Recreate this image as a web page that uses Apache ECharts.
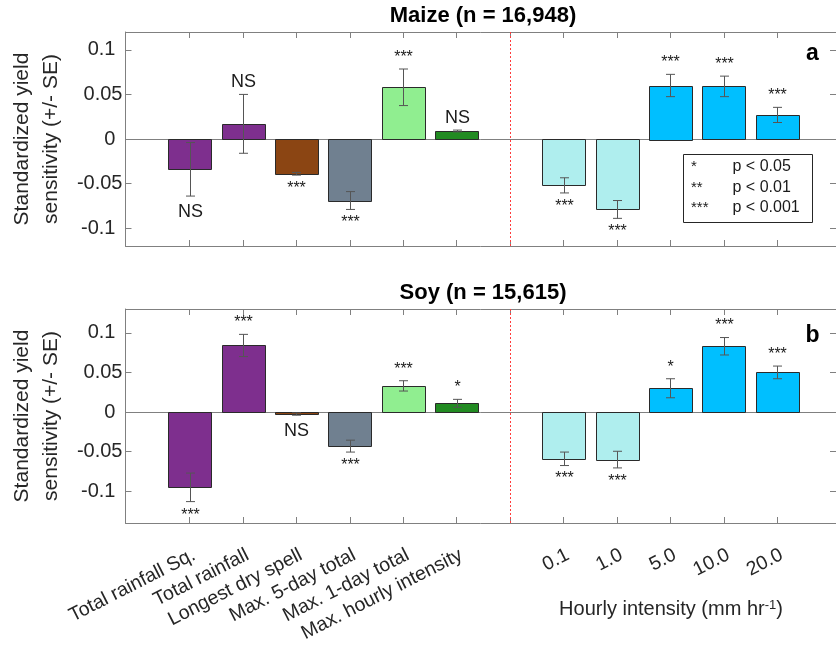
<!DOCTYPE html>
<html><head><meta charset="utf-8">
<script src="https://cdn.jsdelivr.net/npm/echarts@6/dist/echarts.min.js"></script>
<style>html,body{margin:0;padding:0;background:#fff}#c{width:836px;height:649px}</style>
</head><body><div id="c"></div>
<script>
// ---------------- data ----------------
const variableNames = ['Total rainfall Sq.', 'Total rainfall', 'Longest dry spell', 'Max. 5-day total', 'Max. 1-day total', 'Max. hourly intensity'];
const intensityLabels = ['0.1', '1.0', '5.0', '10.0', '20.0'];
const maizeValues = [-0.034, 0.017, -0.039, -0.069, 0.058, 0.009, -0.052, -0.079, 0.060, 0.059, 0.027];
const maizeSE     = [0.030, 0.033, 0.0015, 0.010, 0.0205, 0.001, 0.0085, 0.010, 0.0125, 0.0115, 0.0085];
const maizeSig    = ['NS', 'NS', '***', '***', '***', 'NS', '***', '***', '***', '***', '***'];
const soyValues   = [-0.095, 0.084, -0.0025, -0.043, 0.033, 0.011, -0.059, -0.060, 0.030, 0.083, 0.050];
const soySE       = [0.018, 0.014, 0.0015, 0.0075, 0.0065, 0.005, 0.0085, 0.0105, 0.012, 0.011, 0.008];
const soySig      = ['***', '***', 'NS', '***', '***', '*', '***', '***', '*', '***', '***'];
const yTicks = [-0.1, -0.05, 0, 0.05, 0.1];
const legendStars = ['*', '**', '***'];
const legendText = ['p < 0.05', 'p < 0.01', 'p < 0.001'];
const panelTitles = ['Maize (n = 16,948)', 'Soy (n = 15,615)'];
const panelLetters = ['a', 'b'];
const yName = 'Standardized yield\nsensitivity (+/- SE)';
const xNameMain = 'Hourly intensity (mm hr';
const xNameSup = '-1';

// ---------------- styles ----------------
const barColors = ['#7E2F8E', '#7E2F8E', '#8B4513', '#708090', '#90EE90', '#228B22', '#AFEEEE', '#AFEEEE', '#00BFFF', '#00BFFF', '#00BFFF'];
const FF = 'Liberation Sans';
const TXT = '#262626';
const AX = '#808080';

// slots: left group at 1..6, separator at 7, hourly group at 8..12
const nLeft = variableNames.length;
const sepSlot = nLeft + 1;
const slotOf = i => i < nLeft ? i + 1 : i + 2;
const allSlots = [];
for (let s = 1; s <= nLeft + 1 + intensityLabels.length; s++) allSlots.push(s);
const slotLabel = {};
variableNames.forEach((n, i) => slotLabel[i + 1] = n);
intensityLabels.forEach((n, i) => slotLabel[sepSlot + 1 + i] = n);
const labelSlots = Object.keys(slotLabel).map(Number);

const X_MIN = -0.2, X_MAX = 13.1;
const yRanges = [[-0.12, 0.12], [-0.14, 0.13]];
const BAR_W = 0.8;

function yFmt(v) {
  const s = Math.abs(v) < 1e-9 ? '0' : String(+v.toFixed(2));
  return s.replace(/^-?\d\.?/, '').length === 2 ? '{w|' + s + '}' : '{n|' + s + '}';
}

const grids = [
  { left: 124, top: 32, width: 714, height: 214 },
  { left: 124, top: 309, width: 714, height: 214 }
];

const xAxes = [], yAxes = [], series = [];
[0, 1].forEach(g => {
  const common = {
    type: 'value', gridIndex: g, min: X_MIN, max: X_MAX,
    axisLine: { show: true, onZero: false, lineStyle: { color: AX, width: 1 } },
    axisTick: { show: true, inside: true, length: 6, customValues: allSlots, lineStyle: { color: AX, width: 1 } },
    splitLine: { show: false }
  };
  xAxes.push(Object.assign({}, common, {
    position: 'bottom',
    axisLabel: {
      show: g === 1, customValues: labelSlots, formatter: v => slotLabel[Math.round(v)] || '',
      rotate: 27, fontSize: 19.5, fontFamily: FF, color: TXT, margin: 22,
      align: 'right', verticalAlign: 'top'
    }
  }));
  xAxes.push(Object.assign({}, common, { position: 'top', axisLabel: { show: false } }));
  const ycommon = {
    type: 'value', gridIndex: g, min: yRanges[g][0], max: yRanges[g][1],
    axisLine: { show: true, onZero: false, lineStyle: { color: AX, width: 1 } },
    axisTick: { show: true, inside: true, length: 6, customValues: yTicks, lineStyle: { color: AX, width: 1 } },
    splitLine: { show: false }
  };
  yAxes.push(Object.assign({}, ycommon, {
    position: 'left',
    name: yName, nameLocation: 'middle', nameRotate: 90, nameGap: 58,
    nameTextStyle: { fontSize: 21, lineHeight: 29, color: TXT, fontFamily: FF },
    axisLabel: {
      show: true, customValues: yTicks, formatter: yFmt, margin: 3,
      rich: {
        w: { fontSize: 20, fontFamily: FF, color: TXT },
        n: { fontSize: 20, fontFamily: FF, color: TXT, padding: [0, 7, 0, 0] }
      }
    }
  }));
  yAxes.push(Object.assign({}, ycommon, { position: 'right', axisLabel: { show: false } }));
});

function makeSeries(g, values, se, sig) {
  return {
    type: 'custom',
    xAxisIndex: g * 2, yAxisIndex: g * 2,
    clip: false,
    data: values.map((v, i) => [slotOf(i), v, se[i]]),
    encode: { x: 0, y: 1 },
    renderItem: (params, api) => {
      const i = params.dataIndex;
      const x = api.value(0), v = api.value(1), e = api.value(2);
      const cs = params.coordSys;
      const children = [];
      if (i === 0) {
        const zy = Math.round(api.coord([x, 0])[1]) + 0.5;
        children.push({ type: 'line', shape: { x1: cs.x, y1: zy, x2: cs.x + cs.width, y2: zy }, style: { stroke: AX, lineWidth: 1 } });
        const sx = Math.round(api.coord([sepSlot, 0])[0]) + 0.5;
        children.push({ type: 'line', shape: { x1: sx, y1: cs.y, x2: sx, y2: cs.y + cs.height }, style: { stroke: '#ff3b3b', lineWidth: 1, lineDash: [2, 2] } });
      }
      const p0 = api.coord([x - BAR_W / 2, v]);
      const p1 = api.coord([x + BAR_W / 2, 0]);
      children.push({
        type: 'rect',
        shape: { x: Math.round(p0[0]) + 0.5, y: Math.round(Math.min(p0[1], p1[1])) + 0.5, width: Math.round(p1[0] - p0[0]), height: Math.max(1, Math.round(Math.abs(p1[1] - p0[1]))) },
        style: { fill: barColors[i], stroke: '#2a2a2a', lineWidth: 1 }
      });
      const top = api.coord([x, v + e]), bot = api.coord([x, v - e]);
      const cx = Math.round(top[0]) + 0.5;
      const es = { stroke: '#555', lineWidth: 1 };
      children.push({ type: 'line', shape: { x1: cx, y1: top[1], x2: cx, y2: bot[1] }, style: es });
      children.push({ type: 'line', shape: { x1: cx - 4.5, y1: top[1], x2: cx + 4.5, y2: top[1] }, style: es });
      children.push({ type: 'line', shape: { x1: cx - 4.5, y1: bot[1], x2: cx + 4.5, y2: bot[1] }, style: es });
      const s = sig[i];
      const isNS = s === 'NS';
      let ty;
      if (v >= 0) ty = top[1] - (isNS ? 12.5 : 11.5);
      else ty = bot[1] + (isNS ? 15.5 : 13.5);
      children.push({
        type: 'text',
        style: { text: s, x: cx, y: ty, textAlign: 'center', textVerticalAlign: 'middle', fontSize: isNS ? 18 : 16, fontFamily: FF, fill: '#1a1a1a' }
      });
      return { type: 'group', children };
    }
  };
}
series.push(makeSeries(0, maizeValues, maizeSE, maizeSig));
series.push(makeSeries(1, soyValues, soySE, soySig));

const graphic = [];
const titleY = [16, 292.5];
const letterY = [53.3, 336];
[0, 1].forEach(g => {
  graphic.push({ type: 'text', x: 483, y: titleY[g], style: { text: panelTitles[g], textAlign: 'center', textVerticalAlign: 'middle', fontSize: 22, fontWeight: 'bold', fontFamily: FF, fill: '#000' } });
  graphic.push({ type: 'text', x: 812.5, y: letterY[g], style: { text: panelLetters[g], textAlign: 'center', textVerticalAlign: 'middle', fontSize: 23, fontWeight: 'bold', fontFamily: FF, fill: '#000' } });
});
graphic.push({ type: 'rect', shape: { x: 683.5, y: 154.5, width: 129, height: 68 }, style: { fill: '#fff', stroke: '#262626', lineWidth: 1 }, z: 100 });
legendStars.forEach((st, k) => {
  const yy = 167 + k * 20.5;
  graphic.push({ type: 'text', x: 691, y: yy, z: 101, style: { text: st, textAlign: 'left', textVerticalAlign: 'middle', fontSize: 15, fontFamily: FF, fill: '#1a1a1a' } });
  graphic.push({ type: 'text', x: 732.5, y: yy, z: 101, style: { text: legendText[k], textAlign: 'left', textVerticalAlign: 'middle', fontSize: 16, fontFamily: FF, fill: '#1a1a1a' } });
});
graphic.push({
  type: 'text', x: 671, y: 609,
  style: {
    text: '{a|' + xNameMain + '}{s|' + xNameSup + '}{a|)}',
    textAlign: 'center', textVerticalAlign: 'middle',
    rich: {
      a: { fontSize: 20, fontFamily: FF, fill: TXT, color: TXT },
      s: { fontSize: 13, fontFamily: FF, fill: TXT, color: TXT, verticalAlign: 'top' }
    }
  }
});

const chart = echarts.init(document.getElementById('c'), null, { renderer: 'canvas' });
chart.setOption({
  animation: false,
  backgroundColor: '#fff',
  textStyle: { fontFamily: FF },
  grid: grids,
  xAxis: xAxes,
  yAxis: yAxes,
  series,
  graphic
});
</script></body></html>
